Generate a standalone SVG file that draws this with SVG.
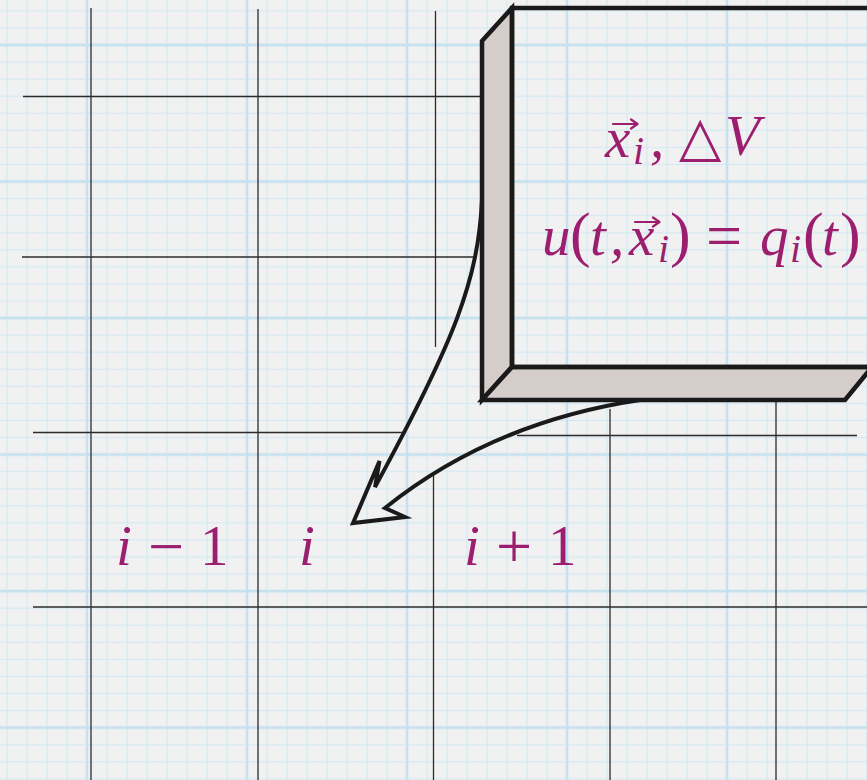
<svg xmlns="http://www.w3.org/2000/svg" width="867" height="780" viewBox="0 0 867 780">
<defs>
<style>
.grid{stroke:#2b2b2b;stroke-width:1.3;fill:none}
.arr{stroke:#1a1a1a;stroke-width:4;fill:none;stroke-linejoin:miter;stroke-linecap:round}
.edge{stroke:#1a1a1a;stroke-width:4.5;stroke-linejoin:miter}
.side{fill:#d4cdca}
.m{font-family:"Liberation Serif","DejaVu Serif",serif;fill:#9c1e6e;font-size:57px}
.it{font-style:italic}
.sub{font-style:italic;font-size:40px}
.op{font-size:64px}
.par{font-size:62px}
.vec{stroke:#9c1e6e;stroke-width:2.2;fill:none;stroke-linecap:round;stroke-linejoin:round}
</style>
<pattern id="minor" patternUnits="userSpaceOnUse" width="20" height="17.066">
<line x1="7" y1="0" x2="7" y2="17.066" stroke="#d6e9f2" stroke-width="1.3"/>
<line x1="0" y1="10.87" x2="20" y2="10.87" stroke="#d6e9f2" stroke-width="1.3"/>
</pattern>
<pattern id="major" patternUnits="userSpaceOnUse" width="160" height="136.53">
<line x1="87" y1="0" x2="87" y2="136.53" stroke="#c6e1ef" stroke-width="2.6"/>
<line x1="0" y1="45" x2="160" y2="45" stroke="#c6e1ef" stroke-width="2.6"/>
</pattern>
</defs>
<g id="paper">
<rect width="867" height="780" fill="#f1f1f1"/>
<rect width="867" height="780" fill="url(#minor)"/>
<rect width="867" height="780" fill="url(#major)"/>
</g>
<g id="cells">
<line class="grid" x1="91" y1="8" x2="91" y2="780"/>
<line class="grid" x1="258" y1="9" x2="258" y2="780"/>
<line class="grid" x1="435.5" y1="11" x2="435.5" y2="347"/>
<line class="grid" x1="433.5" y1="475" x2="433.5" y2="780"/>
<line class="grid" x1="610" y1="409" x2="610" y2="780"/>
<line class="grid" x1="776" y1="400" x2="776" y2="780"/>
<line class="grid" x1="23" y1="96.5" x2="482" y2="96.5"/>
<line class="grid" x1="22" y1="257" x2="474" y2="257"/>
<line class="grid" x1="33" y1="432.5" x2="403" y2="432.5"/>
<line class="grid" x1="517" y1="435.5" x2="857" y2="435.5"/>
<line class="grid" x1="33" y1="607" x2="867" y2="607"/>
</g>
<g id="connectors">
<path class="arr" d="M482,200 C478,280 455,340 375,487 L379.5,461 L353,523 L405,517 L385,508 C470,440 560,412 640,400"/>
</g>
<g id="box">
<polygon class="side edge" points="482,41 512,8 512,367 482,400"/>
<polygon class="side edge" points="482,400 512,367 872,367 845,400"/>
<rect class="edge" x="512" y="8" width="400" height="359" fill="none"/>
</g>
<g id="box-text">
<text class="m"><tspan class="it" x="605" y="157">x</tspan><tspan class="sub" x="633" y="164">i</tspan><tspan class="it" x="650" y="157">,</tspan><tspan x="679" y="155" style="font-size:55px">△</tspan><tspan class="it" x="725" y="155">V</tspan></text>
<path class="vec" d="M613,124 H637 M631,119.5 L637.5,124 L631,128.5"/>
<text class="m"><tspan class="it" x="542" y="255">u</tspan><tspan class="par" x="570" y="255">(</tspan><tspan class="it" x="590" y="255">t</tspan><tspan class="it" x="610" y="255">,</tspan><tspan class="it" x="629" y="255">x</tspan><tspan class="sub" x="658" y="262">i</tspan><tspan class="par" x="670" y="255">)</tspan><tspan class="op" x="706" y="257">=</tspan><tspan class="it" x="760" y="255">q</tspan><tspan class="sub" x="790" y="262">i</tspan><tspan class="par" x="803" y="255">(</tspan><tspan class="it" x="822" y="255">t</tspan><tspan class="par" x="840" y="255">)</tspan></text>
<path class="vec" d="M635,222 H659 M653,217.5 L659.5,222 L653,226.5"/>
</g>
<g id="labels">
<text class="m"><tspan class="it" x="116" y="565">i</tspan><tspan class="op" x="148" y="568">−</tspan><tspan x="200" y="565">1</tspan></text>
<text class="m it" x="299" y="565">i</text>
<text class="m"><tspan class="it" x="464" y="565">i</tspan><tspan class="op" x="496" y="568">+</tspan><tspan x="548" y="565">1</tspan></text>
</g>
</svg>
